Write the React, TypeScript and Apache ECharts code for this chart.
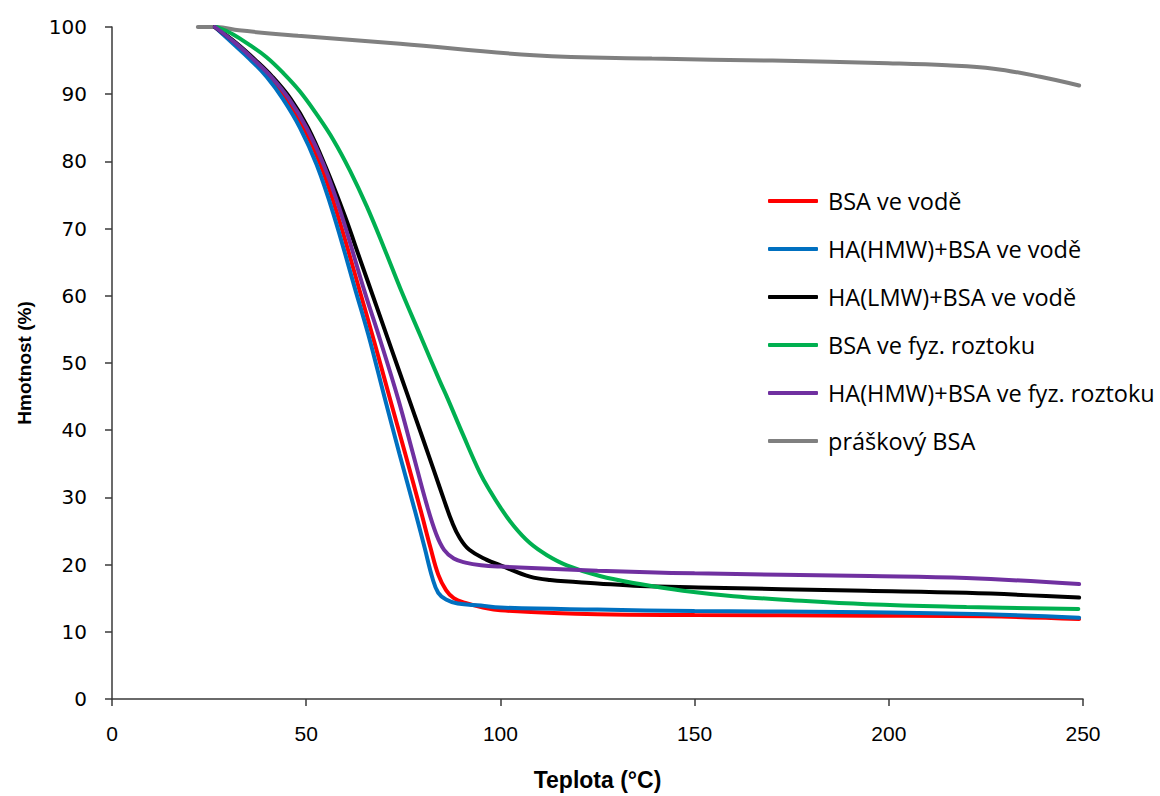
import React, { useEffect, useRef } from "react";
import * as echarts from "echarts";

const seriesNames = [
  "BSA ve vodě",
  "HA(HMW)+BSA ve vodě",
  "HA(LMW)+BSA ve vodě",
  "BSA ve fyz. roztoku",
  "HA(HMW)+BSA ve fyz. roztoku",
  "práškový BSA",
];

const seriesColors = ["#FF0000", "#0070C0", "#000000", "#00B050", "#7030A0", "#808080"];

const bsaVoda: number[][] = [
  [26.5, 100], [31.5, 97.6], [36, 95.2], [40.5, 92.6], [45, 89.3], [49.4, 85.0],
  [53.7, 79.5], [58, 72.2], [63.9, 60.5], [67.5, 53.2], [71.6, 44.6], [75.5, 36.5],
  [79.5, 28.0], [82, 22.5], [84, 18.5], [86, 16.2], [88, 15.0], [91, 14.3],
  [95, 13.7], [100, 13.2], [125, 12.6], [150, 12.5], [195, 12.4], [225, 12.3], [249, 11.9],
];

const hmwVoda: number[][] = [
  [26.5, 100], [31.2, 97.5], [35.5, 95.2], [39.8, 92.6], [44, 89.3], [48.4, 85.0],
  [52.7, 79.5], [57, 72.2], [62.6, 61.0], [66, 54.2], [69.9, 45.5], [74, 36.5],
  [78, 28.0], [80.5, 22.5], [82.5, 18.0], [84, 15.8], [86, 14.8], [89, 14.2],
  [95, 13.9], [100, 13.6], [125, 13.3], [150, 13.1], [195, 12.9], [225, 12.6], [249, 12.1],
];

const lmwVoda: number[][] = [
  [26.5, 100], [32, 97.6], [36.7, 95.2], [41.3, 92.6], [46, 89.3], [50.5, 85.0],
  [55, 79.2], [60, 71.8], [64, 65.2], [68, 58.6], [72, 52.0], [76, 45.4],
  [80, 38.8], [83, 33.8], [85.5, 29.6], [87.5, 26.4], [89.5, 24.0], [92, 22.2],
  [96.5, 20.7], [100, 19.9], [107.6, 18.2], [112.8, 17.7], [125, 17.2], [136, 16.8],
  [151, 16.6], [194, 16.1], [220, 15.8], [249, 15.1],
];

const bsaFyz: number[][] = [
  [27, 100], [31.2, 98.9], [35.5, 97.3], [39.8, 95.5], [44, 93.2], [48.4, 90.4],
  [52.7, 87.0], [57, 83.2], [61.3, 78.6], [65.6, 73.3], [70, 67.2], [74.5, 60.7],
  [79.3, 54.2], [84.4, 47.3], [86.2, 45.0], [90.4, 39.3], [94.7, 33.7], [97.5, 30.8],
  [99.9, 28.6], [103.5, 25.7], [107.6, 23.2], [112, 21.4], [117.1, 19.9], [125.6, 18.3],
  [135.9, 17.1], [147, 16.1], [160, 15.3], [175, 14.7], [194.3, 14.1], [220, 13.7], [248.8, 13.4],
];

const hmwFyz: number[][] = [
  [26.5, 100], [31.8, 97.6], [36.4, 95.2], [41, 92.6], [45.6, 89.3], [50.1, 85.0],
  [54.5, 79.5], [59, 72.2], [65.1, 60.5], [69, 53.5], [73.7, 44.6], [77.5, 36.5],
  [81, 29.0], [83.5, 24.5], [85.5, 22.2], [88, 20.9], [91, 20.3], [95, 19.9],
  [100, 19.7], [125, 19.1], [150, 18.7], [195, 18.3], [220, 18.0], [249, 17.1],
];

const praskovy: number[][] = [
  [22.1, 100], [27, 100], [32.7, 99.5], [47.9, 98.7], [74.2, 97.5], [108.6, 95.8],
  [139, 95.3], [170, 95.0], [199.8, 94.6], [215, 94.3], [227, 93.8], [239, 92.6], [249, 91.3],
];

const seriesData = [bsaVoda, hmwVoda, lmwVoda, bsaFyz, hmwFyz, praskovy];

const xTicks = { min: 0, max: 250, interval: 50 };
const yTicks = { min: 0, max: 100, interval: 10 };

export default function App() {
  const ref = useRef<HTMLDivElement>(null);
  useEffect(() => {
    if (!ref.current) return;
    const chart = echarts.init(ref.current, undefined, { renderer: "svg" });
    const axisColor = "#3a3a3a";
    chart.setOption({
      animation: false,
      backgroundColor: "#ffffff",
      grid: { left: 112, right: 77, top: 27, bottom: 94, containLabel: false },
      legend: {
        orient: "vertical",
        left: 763,
        top: 184,
        icon: "roundRect",
        itemWidth: 50,
        itemHeight: 4,
        itemGap: 24,
        data: seriesNames,
        textStyle: { fontFamily: "Open Sans", fontSize: 23.5, color: "#000", padding: [0, 0, 0, 5] },
      },
      xAxis: {
        type: "value",
        min: xTicks.min,
        max: xTicks.max,
        interval: xTicks.interval,
        name: "Teplota (°C)",
        nameLocation: "middle",
        nameGap: 69,
        nameTextStyle: { fontFamily: "Liberation Sans", fontWeight: "bold", fontSize: 23, color: "#000" },
        axisLine: { show: true, onZero: false, lineStyle: { color: axisColor, width: 1.5 } },
        axisTick: { show: true, inside: false, length: 7, lineStyle: { color: axisColor, width: 1.5 } },
        axisLabel: { margin: 24, fontFamily: "Liberation Sans", fontSize: 21, color: "#000" },
        splitLine: { show: false },
      },
      yAxis: {
        type: "value",
        min: yTicks.min,
        max: yTicks.max,
        interval: yTicks.interval,
        name: "Hmotnost (%)",
        nameLocation: "middle",
        nameGap: 78,
        nameTextStyle: { fontFamily: "Liberation Sans", fontWeight: "bold", fontSize: 19, color: "#000" },
        axisLine: { show: true, lineStyle: { color: axisColor, width: 1.5 } },
        axisTick: { show: true, inside: false, length: 7, lineStyle: { color: axisColor, width: 1.5 } },
        axisLabel: { margin: 25, fontFamily: "DejaVu Sans", fontSize: 20, color: "#000" },
        splitLine: { show: false },
      },
      series: seriesNames.map((name, i) => ({
        name,
        type: "line",
        data: seriesData[i],
        smooth: 0.4,
        showSymbol: false,
        symbol: "none",
        lineStyle: { color: seriesColors[i], width: 4, cap: "round" },
        itemStyle: { color: seriesColors[i] },
        z: i === 5 ? 1 : 2 + i,
      })),
    });
    return () => chart.dispose();
  }, []);
  return <div ref={ref} style={{ position: "fixed", left: 0, top: 0, width: 1160, height: 796 }} />;
}
